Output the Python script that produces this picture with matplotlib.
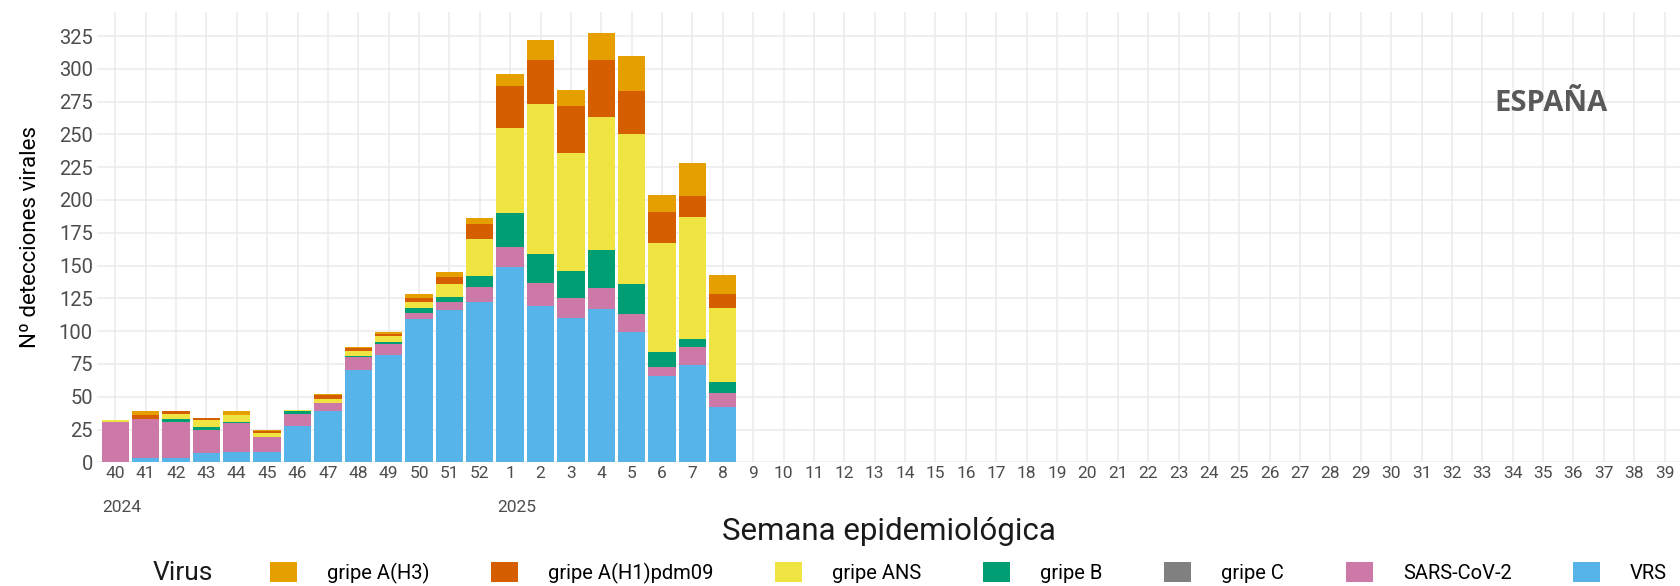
#Stacked weekly viral detections, Spain, season 2024-25
import numpy as np
import matplotlib.pyplot as plt
from matplotlib.patches import Patch
from matplotlib.transforms import blended_transform_factory

weeks = [str(w) for w in range(40, 53)] + [str(w) for w in range(1, 40)]
years = {'40': '2024', '1': '2025'}

virus = ['gripe A(H3)', 'gripe A(H1)pdm09', 'gripe ANS', 'gripe B', 'gripe C', 'SARS-CoV-2', 'VRS']
colors = ['#E69F00', '#D55E00', '#F0E442', '#009E73', '#808080', '#CC79A7', '#56B4E9']

# values for weeks 40..52, 1..8 (rest of season still empty)
vrs      = [0, 3, 3, 7, 8, 8, 28, 39, 70, 82, 109, 116, 122, 149, 119, 110, 117, 99, 66, 74, 42]
sars     = [31, 30, 28, 18, 22, 11, 9, 6, 10, 8, 5, 6, 12, 15, 18, 15, 16, 14, 7, 14, 11]
gripe_c  = [0] * 21
gripe_b  = [0, 0, 2, 2, 1, 0, 2, 0, 1, 2, 4, 4, 8, 26, 22, 21, 29, 23, 11, 6, 8]
gripe_ns = [1, 0, 4, 5, 5, 3, 1, 3, 4, 4, 4, 10, 28, 65, 114, 90, 101, 114, 83, 93, 57]
h1       = [0, 3, 2, 2, 0, 2, 0, 3, 2, 2, 3, 5, 12, 32, 34, 36, 44, 33, 24, 16, 10]
h3       = [0, 3, 0, 0, 3, 1, 0, 1, 1, 1, 3, 4, 4, 9, 15, 12, 20, 27, 13, 25, 15]

# stacking order bottom -> top
stack = [vrs, sars, gripe_c, gripe_b, gripe_ns, h1, h3]
stack_cols = colors[::-1]

fig = plt.figure(figsize=(16.8, 5.86), dpi=100)
ax = fig.add_axes([97/1680, 1 - 462.3/586, 1 - 97/1680, 450.3/586])

x = np.arange(len(vrs))
bottom = np.zeros(len(vrs))
for vals, col in zip(stack, stack_cols):
    vals = np.array(vals, dtype=float)
    ax.bar(x, vals, width=0.9, bottom=bottom, color=col, linewidth=0, zorder=2)
    bottom += vals

ax.set_xlim(-0.6, -0.6 + (1680 - 97) / 30.38)
ax.set_ylim(0, 343.3)
ax.set_xticks(np.arange(len(weeks)))
ax.set_xticklabels(weeks, fontsize=12.5, color='#4D4D4D', family='Roboto')
ax.set_yticks(np.arange(0, 326, 25))
ax.set_yticklabels([str(v) for v in range(0, 326, 25)], fontsize=14.5, color='#4D4D4D', family='Roboto')
ax.tick_params(length=0)
ax.tick_params(axis='y', pad=3)
ax.tick_params(axis='x', pad=3)
ax.grid(True, color='#EBEBEB', linewidth=1.1, zorder=0)
ax.set_axisbelow(True)
for s in ax.spines.values():
    s.set_visible(False)

ax.set_ylabel('Nº detecciones virales', fontsize=16, family='Roboto', labelpad=13)

# year labels below the week ticks
tr = blended_transform_factory(ax.transData, fig.transFigure)
for i, w in enumerate(weeks):
    if w in years:
        fig.text(i + 0.22, 1 - 507/586, years[w], transform=tr, ha='center', va='center',
                 fontsize=12.5, color='#4D4D4D', family='Roboto')

fig.text(889/1680, 1 - 532/586, 'Semana epidemiológica', ha='center', va='center',
         fontsize=22.5, family='Roboto', color='#1A1A1A')

fig.text(1551/1680, 1 - 103/586, 'ESPAÑA', ha='center', va='center', fontsize=21,
         fontweight='bold', family='Open Sans', color='#595959')

# legend
fig.text(183/1680, 1 - 573/586, 'Virus', ha='center', va='center', fontsize=19,
         family='Roboto', color='#1A1A1A')
handles = [Patch(facecolor=c, edgecolor='none') for c in colors]
fig.legend(handles, virus, loc='center left', bbox_to_anchor=(270/1680, 1 - 573/586),
           ncol=7, frameon=False, borderpad=0, borderaxespad=0,
           prop={'family': 'Roboto', 'size': 14.5},
           handlelength=1.34, handleheight=1.1, handletextpad=1.5, columnspacing=3.05)

plt.savefig('out.png', dpi=100)
